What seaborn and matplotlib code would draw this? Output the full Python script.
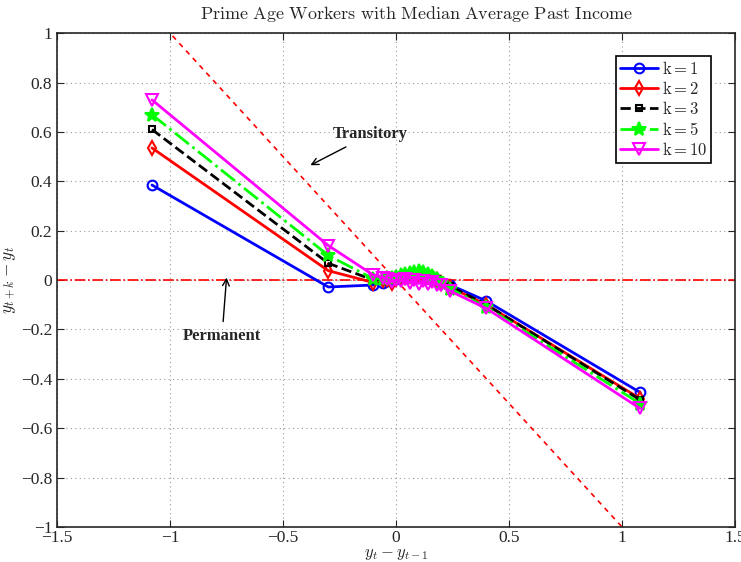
import numpy as np
import pandas as pd
import matplotlib
matplotlib.use("Agg")
import matplotlib.pyplot as plt
import seaborn as sns

# ---- data ----
x_vals = [-1.08, -0.30, -0.10, -0.06, -0.04, -0.02, 0.0, 0.02, 0.04, 0.06, 0.08,
          0.10, 0.12, 0.14, 0.16, 0.18, 0.20, 0.24, 0.40, 1.08]
k1 = [0.385, -0.028, -0.020, -0.010, -0.005, 0.000, 0.004, 0.008, 0.010, 0.012, 0.014,
      0.015, 0.014, 0.010, 0.004, -0.004, -0.012, -0.020, -0.085, -0.455]
k2 = [0.535, 0.038, -0.010, 0.000, 0.004, -0.012, 0.006, 0.010, 0.014, 0.018, 0.020,
      0.022, 0.020, 0.016, 0.010, 0.002, -0.010, -0.030, -0.100, -0.480]
k3 = [0.610, 0.068, 0.000, 0.002, 0.006, 0.004, 0.010, 0.014, 0.018, 0.022, 0.026,
      0.028, 0.026, 0.022, 0.014, 0.004, -0.008, -0.025, -0.100, -0.485]
k5 = [0.670, 0.100, 0.005, 0.006, 0.010, 0.008, 0.014, 0.020, 0.024, 0.030, 0.034,
      0.036, 0.032, 0.026, 0.016, 0.006, -0.010, -0.035, -0.110, -0.500]
k10 = [0.730, 0.140, 0.020, 0.010, 0.004, -0.006, 0.000, -0.004, 0.004, -0.010, 0.002,
       -0.014, -0.004, -0.016, -0.006, -0.018, -0.020, -0.045, -0.115, -0.520]
series_names = ["k=1", "k=2", "k=3", "k=5", "k=10"]
series_vals = [k1, k2, k3, k5, k10]
xticks = [-1.5, -1, -0.5, 0, 0.5, 1, 1.5]
yticks = [-1, -0.8, -0.6, -0.4, -0.2, 0, 0.2, 0.4, 0.6, 0.8, 1]
ref_x = [-1.5, 1.5]

# ---- style ----
sns.set_style("ticks")
plt.rcParams["font.family"] = ["Liberation Serif", "DejaVu Serif"]
plt.rcParams["mathtext.fontset"] = "cm"

fig = plt.figure(figsize=(7.41, 5.62), dpi=100)
ax = fig.add_axes([0.077, 0.0623, 0.915, 0.8787])

styles = [
    dict(color="#0000ff", marker="o", ls="-", mfc="none", ms=7),
    dict(color="#ff0000", marker="d", ls="-", mfc="none", ms=7),
    dict(color="#000000", marker="s", ls="--", mfc="none", ms=5),
    dict(color="#00ff00", marker="*", ls="-.", mfc="#00ff00", ms=10),
    dict(color="#ff00ff", marker="v", ls="-", mfc="none", ms=8),
]

df_list = []
for name, vals in zip(series_names, series_vals):
    df_list.append(pd.DataFrame({"x": x_vals, "y": vals, "k": name}))
df = pd.concat(df_list, ignore_index=True)

for name, st in zip(series_names, styles):
    sub = df[df["k"] == name]
    sns.lineplot(data=sub, x="x", y="y", ax=ax, sort=False, color=st["color"],
                 linestyle=st["ls"], linewidth=2, marker=st["marker"],
                 markersize=st["ms"], markerfacecolor=st["mfc"],
                 markeredgecolor=st["color"], markeredgewidth=1.5, label=name)

# reference lines
ax.plot(ref_x, [-v for v in ref_x], color="red", ls=(0, (3, 3)), lw=1.2, zorder=1)
ax.plot(ref_x, [0, 0], color="red", ls="-.", lw=1.2, zorder=1)

ax.set_xlim(-1.5, 1.5)
ax.set_ylim(-1, 1)
ax.set_xticks(xticks)
ax.set_yticks(yticks)
ax.set_xticklabels(["\u22121.5", "\u22121", "\u22120.5", "0", "0.5", "1", "1.5"])
ax.set_yticklabels(["\u22121", "\u22120.8", "\u22120.6", "\u22120.4", "\u22120.2", "0",
                    "0.2", "0.4", "0.6", "0.8", "1"])
ax.tick_params(direction="in", top=True, right=True, labelsize=12.5, length=5)
ax.tick_params(axis="x", pad=2)
ax.grid(True, ls=(0, (1, 3)), color="#999999", lw=0.8)
for s in ax.spines.values():
    s.set_linewidth(1.2)
    s.set_visible(True)

ax.set_title(r"$\mathrm{Prime\ Age\ Workers\ with\ Median\ Average\ Past\ Income}$",
             fontsize=13, x=0.53, y=1.0, pad=10)
ax.set_xlabel(r"$y_t - y_{t-1}$", fontsize=12)
ax.xaxis.set_label_coords(0.5, -0.038)
ax.set_ylabel(r"$y_{t+k} - y_t$", fontsize=12.5, labelpad=2)

ax.annotate("Transitory", xy=(-0.39, 0.46), xytext=(-0.28, 0.59),
            fontsize=12, fontweight="bold", ha="left", va="center",
            arrowprops=dict(arrowstyle="->", color="black", lw=1))
ax.annotate("Permanent", xy=(-0.75, 0.01), xytext=(-0.77, -0.225),
            fontsize=12, fontweight="bold", ha="center", va="center",
            arrowprops=dict(arrowstyle="->", color="black", lw=1, shrinkB=0))

leg = ax.legend(loc="upper right", bbox_to_anchor=(0.965, 0.953), fancybox=False,
                edgecolor="black", framealpha=1, fontsize=12, handlelength=2.3,
                borderpad=0.25, labelspacing=0.2, handletextpad=0.2,
                borderaxespad=0)
leg.get_frame().set_linewidth(1.2)
for t in leg.get_texts():
    lbl = t.get_text()
    t.set_text(r"$\mathrm{" + lbl.replace("=", "}{=}\\mathrm{") + "}$")

fig.savefig("out.png", dpi=100)
